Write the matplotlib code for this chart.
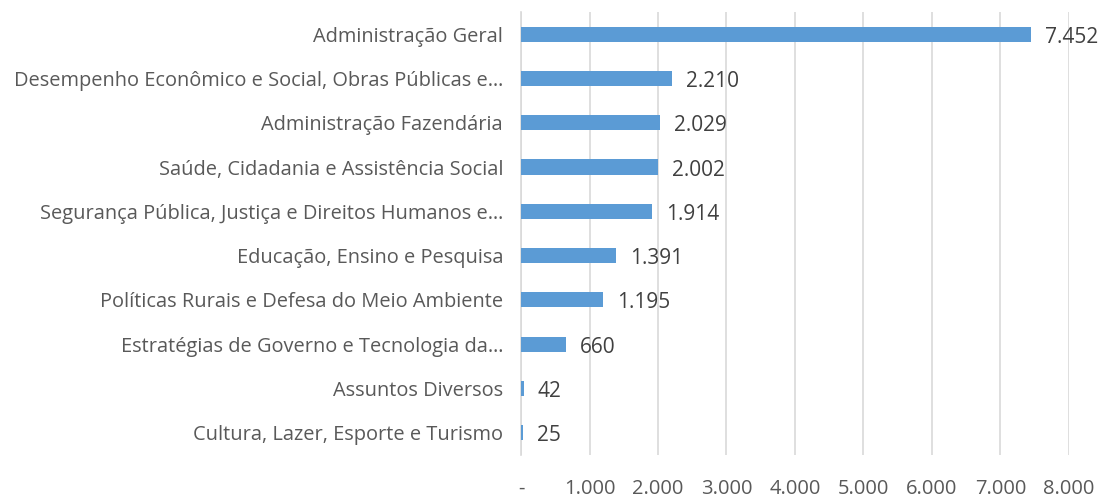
import matplotlib.pyplot as plt

plt.rcParams['font.family'] = ['Open Sans', 'DejaVu Sans']

categorias = [
    'Administração Geral',
    'Desempenho Econômico e Social, Obras Públicas e…',
    'Administração Fazendária',
    'Saúde, Cidadania e Assistência Social',
    'Segurança Pública, Justiça e Direitos Humanos e…',
    'Educação, Ensino e Pesquisa',
    'Políticas Rurais e Defesa do Meio Ambiente',
    'Estratégias de Governo e Tecnologia da…',
    'Assuntos Diversos',
    'Cultura, Lazer, Esporte e Turismo',
]
valores = [7452, 2210, 2029, 2002, 1914, 1391, 1195, 660, 42, 25]
rotulos = ['7.452', '2.210', '2.029', '2.002', '1.914', '1.391', '1.195', '660', '42', '25']
ticks_x = [0, 1000, 2000, 3000, 4000, 5000, 6000, 7000, 8000]
ticks_lbl = ['-', '1.000', '2.000', '3.000', '4.000', '5.000', '6.000', '7.000', '8.000']

cor_barra = '#5B9BD5'
cor_texto = '#595959'

fig = plt.figure(figsize=(11.11, 4.97), dpi=100)
ax = fig.add_axes([0.469, 0.0845, 0.493, 0.8915])

pos = list(range(len(categorias)))
ax.barh(pos, valores, height=0.34, color=cor_barra, zorder=3)
ax.set_ylim(9.5, -0.5)
ax.set_xlim(0, 8000)

for p, v, r in zip(pos, valores, rotulos):
    ax.annotate(r, (v, p), xytext=(14, -3), textcoords='offset pixels',
                ha='left', va='center', fontsize=15, color='#404040', zorder=4)

ax.set_yticks(pos)
ax.set_yticklabels(categorias, fontsize=14.4, color=cor_texto)
ax.set_xticks(ticks_x)
ax.set_xticklabels(ticks_lbl, fontsize=14.5, color=cor_texto)
ax.tick_params(axis='y', length=0, pad=13)
ax.tick_params(axis='x', length=0, pad=17)

ax.grid(axis='x', color='#D9D9D9', linewidth=1.2, zorder=0)
for s in ['top', 'right', 'bottom']:
    ax.spines[s].set_visible(False)
ax.spines['left'].set_color('#D9D9D9')
ax.spines['left'].set_linewidth(1.2)

fig.savefig('out.png', dpi=100)
